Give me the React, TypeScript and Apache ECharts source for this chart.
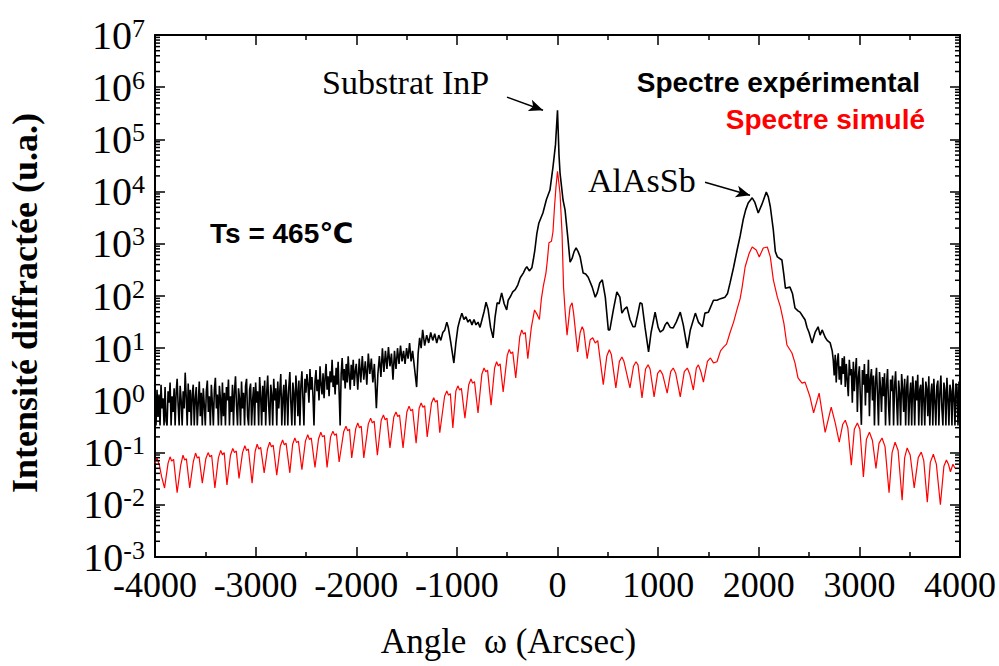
import React, { useEffect, useRef } from "react";
import * as echarts from "echarts";

// ---------- data ----------
// Experimental spectrum (black): noisy left tail, sampled every 10 arcsec
const NOISE_STEP = 10;
const EXP_LEFT_START = -4000;
const EXP_LEFT_NOISE = [
  0.9, 0.33, 1.6, 0.5, 1.3, 0.33, 2.0, 0.7, 1.1, 0.33,
  1.8, 0.4, 0.33, 1.5, 0.9, 2.2, 0.33, 1.2, 0.6, 1.7,
  0.33, 1.4, 2.6, 0.8, 0.33, 1.9, 1.0, 0.33, 1.5, 0.7,
  3.4, 1.2, 0.33, 2.1, 0.6, 1.6, 0.33, 1.3, 2.0, 0.33,
  1.1, 1.8, 0.33, 0.9, 2.3, 0.5, 1.4, 0.33, 1.7, 0.8,
  0.33, 1.5, 2.4, 0.6, 1.2, 0.33, 2.0, 0.9, 0.33, 1.6,
  2.7, 0.7, 1.3, 0.33, 1.9, 1.1, 0.33, 2.2, 0.5, 1.4,
  0.33, 1.8, 1.0, 2.5, 0.33, 1.2, 0.6, 2.0, 0.33, 1.5,
  2.9, 0.8, 0.33, 1.7, 1.1, 0.33, 2.3, 0.7, 1.4, 0.33,
  1.9, 2.6, 0.5, 0.33, 1.6, 2.1, 0.33, 1.0, 1.8, 0.33,
  2.2, 0.9, 1.5, 0.33, 2.8, 1.2, 0.33, 1.9, 0.6, 2.4,
  0.33, 1.4, 3.0, 0.8, 0.33, 2.0, 1.3, 0.33, 2.6, 1.0,
  1.7, 0.33, 2.3, 0.7, 1.5, 3.2, 0.33, 1.1, 2.0, 0.33,
  2.5, 1.3, 0.33, 1.8, 3.5, 0.9, 0.33, 2.2, 1.4, 0.33,
  3.0, 1.6, 0.5, 2.4, 0.33, 1.9, 3.6, 1.1, 0.33, 2.6,
  1.4, 3.2, 2.0, 0.9, 4.0, 1.6, 2.8, 1.2, 0.33, 2.3,
  3.8, 1.5, 2.5, 1.0, 4.5, 2.0, 1.3, 3.3, 1.1, 2.7,
  5.0, 1.6, 2.9, 1.2, 3.6, 2.2, 6.0, 1.8, 3.0, 1.3,
  4.2, 2.0, 5.5, 1.4, 0.33, 3.2, 6.5, 2.4, 4.0, 1.7,
  5.0, 2.2, 7.0, 3.0, 1.6, 4.8, 2.5, 6.0, 1.9, 3.6,
];

// Experimental spectrum (black): central part, [angle, intensity]
const EXP_CENTER: [number, number][] = [
  [-2000, 5.0], [-1985, 1.6], [-1970, 6.3], [-1955, 2.2], [-1940, 7.1], [-1925, 2.5],
  [-1910, 5.6], [-1895, 2.0], [-1880, 7.9], [-1865, 3.2], [-1850, 6.3], [-1835, 2.2],
  [-1820, 5.0], [-1800, 0.71], [-1785, 3.2], [-1770, 7.1], [-1755, 2.8], [-1740, 10],
  [-1725, 3.5], [-1710, 8.9], [-1695, 4.0], [-1680, 10.5], [-1665, 4.5], [-1650, 7.9],
  [-1635, 2.5], [-1620, 8.9], [-1605, 4.0], [-1590, 10], [-1575, 5.0], [-1560, 11.2],
  [-1545, 5.6], [-1530, 8.9], [-1515, 5.0], [-1500, 10], [-1485, 6.3], [-1470, 12.6],
  [-1455, 5.6], [-1440, 8.9], [-1420, 4.0], [-1400, 1.8], [-1385, 7.9], [-1370, 15.8],
  [-1355, 10], [-1340, 22.4], [-1320, 11.2], [-1300, 17.8], [-1280, 12.6], [-1260, 20],
  [-1240, 14.1], [-1220, 19], [-1200, 12.6], [-1180, 17.8], [-1160, 14.1], [-1140, 20],
  [-1120, 22.4], [-1100, 31.6], [-1085, 25], [-1060, 12.6], [-1030, 5.2], [-1010, 12.6],
  [-990, 25], [-970, 35.5], [-950, 47], [-930, 35.5], [-910, 40], [-890, 31.6],
  [-870, 35.5], [-850, 28], [-830, 35.5], [-810, 28], [-790, 31.6], [-770, 25],
  [-750, 35.5], [-730, 50], [-710, 76], [-690, 56], [-665, 25], [-640, 15.8],
  [-620, 40], [-600, 74], [-580, 71], [-555, 115], [-530, 71], [-505, 54],
  [-490, 83], [-465, 100], [-445, 120], [-420, 132], [-395, 162], [-370, 224],
  [-340, 275], [-320, 331], [-305, 363], [-280, 302], [-255, 347], [-240, 500],
  [-225, 760], [-205, 1580], [-185, 2510], [-160, 3300], [-145, 3900], [-110, 7080],
  [-75, 10700], [-45, 29500], [-20, 79400], [0, 363000], [15, 50000], [25, 22900],
  [55, 6900], [75, 4470], [105, 1175], [125, 447], [145, 525], [165, 708],
  [185, 832], [205, 708], [225, 562], [255, 275], [280, 263], [305, 229],
  [345, 148], [375, 95], [395, 115], [420, 178], [445, 204], [475, 95],
  [505, 22.4], [520, 22.4], [555, 54], [590, 120], [620, 95], [640, 47],
  [665, 56], [690, 62], [720, 35.5], [750, 25.7], [770, 25.7], [800, 47],
  [820, 74], [840, 71], [870, 25], [905, 8.5], [930, 20], [970, 49],
  [1000, 25], [1020, 20.4], [1050, 22.4], [1070, 28], [1090, 31.6], [1120, 25],
  [1150, 24.5], [1180, 31.6], [1220, 49], [1250, 28], [1290, 10], [1320, 22.4],
  [1370, 47], [1400, 31.6], [1440, 25.7], [1465, 47], [1500, 49], [1550, 83],
  [1585, 83], [1620, 89], [1665, 95], [1690, 112], [1715, 178], [1750, 355],
  [1785, 760], [1815, 1410], [1845, 2880], [1870, 4470], [1895, 6030], [1935, 7590],
  [1960, 6310], [1995, 3890], [2030, 5620], [2075, 9770], [2095, 7940], [2115, 5130],
  [2145, 1820], [2165, 708], [2185, 562], [2230, 490], [2250, 251], [2265, 141],
  [2310, 148], [2335, 112], [2360, 59], [2390, 52], [2410, 49], [2440, 40],
  [2460, 35], [2480, 25], [2500, 20], [2530, 12.6], [2560, 20], [2590, 25.7],
  [2610, 17.8], [2630, 22.4], [2660, 16.2], [2680, 14.1], [2710, 12.6], [2730, 8.9],
];

// Experimental spectrum (black): noisy right tail, sampled every 10 arcsec
const EXP_RIGHT_START = 2740;
const EXP_RIGHT_NOISE = [
  6.0, 3.0, 7.5, 2.2, 5.5, 8.0, 2.5, 4.5, 2.0, 6.5,
  3.2, 7.0, 1.8, 5.0, 2.4, 1.2, 6.0, 3.0, 4.0, 0.9,
  5.5, 1.5, 3.5, 6.5, 0.6, 2.8, 4.5, 1.1, 0.34, 3.8,
  2.0, 5.0, 0.8, 3.2, 1.4, 6.0, 0.5, 2.6, 4.0, 1.0,
  3.0, 0.33, 2.2, 4.2, 1.3, 0.33, 3.5, 1.8, 0.6, 2.8,
  1.2, 3.3, 0.33, 2.0, 4.0, 0.8, 0.33, 2.5, 1.5, 3.0,
  0.33, 1.9, 3.6, 1.0, 0.33, 2.4, 1.4, 0.33, 3.2, 1.7,
  0.6, 2.6, 0.33, 1.8, 3.0, 0.33, 1.2, 2.2, 0.33, 2.9,
  1.5, 0.33, 2.4, 1.0, 3.1, 0.33, 1.6, 2.0, 0.33, 2.7,
  1.1, 0.33, 2.3, 1.7, 0.5, 2.9, 0.33, 1.3, 2.1, 0.33,
  2.6, 1.0, 0.33, 1.9, 2.4, 0.33, 1.4, 3.0, 0.7, 0.33,
  2.2, 1.6, 0.33, 2.7, 1.1, 0.33, 2.0, 1.5, 0.33, 2.5,
  1.2, 0.33, 2.1, 1.8, 0.33, 2.3, 1.4,
];

// Simulated spectrum (red), [angle, intensity]
const SIM: [number, number][] = [
  [-4000, 0.063], [-3980, 0.079], [-3955, 0.056], [-3935, 0.035], [-3905, 0.021],
  [-3870, 0.063], [-3850, 0.083], [-3835, 0.069], [-3815, 0.074], [-3780, 0.017],
  [-3745, 0.056], [-3722, 0.089], [-3705, 0.072], [-3688, 0.076], [-3655, 0.021],
  [-3620, 0.066], [-3597, 0.098], [-3580, 0.079], [-3562, 0.083], [-3530, 0.026],
  [-3495, 0.076], [-3472, 0.10], [-3455, 0.083], [-3437, 0.089], [-3405, 0.021],
  [-3370, 0.079], [-3347, 0.11], [-3330, 0.091], [-3312, 0.10], [-3285, 0.024],
  [-3250, 0.089], [-3227, 0.12], [-3210, 0.10], [-3192, 0.107], [-3165, 0.032],
  [-3130, 0.10], [-3107, 0.135], [-3090, 0.11], [-3072, 0.117], [-3035, 0.026],
  [-3005, 0.105], [-2985, 0.145], [-2968, 0.117], [-2950, 0.126], [-2915, 0.041],
  [-2882, 0.117], [-2860, 0.158], [-2843, 0.129], [-2825, 0.138], [-2790, 0.037],
  [-2755, 0.132], [-2732, 0.174], [-2715, 0.141], [-2697, 0.151], [-2660, 0.041],
  [-2632, 0.145], [-2610, 0.19], [-2593, 0.155], [-2575, 0.166], [-2540, 0.047],
  [-2505, 0.166], [-2482, 0.22], [-2465, 0.178], [-2447, 0.19], [-2410, 0.052],
  [-2375, 0.182], [-2352, 0.245], [-2335, 0.20], [-2317, 0.214], [-2290, 0.052],
  [-2255, 0.20], [-2232, 0.257], [-2215, 0.214], [-2197, 0.229], [-2170, 0.066],
  [-2125, 0.25], [-2102, 0.32], [-2085, 0.263], [-2067, 0.282], [-2045, 0.079],
  [-2005, 0.288], [-1985, 0.37], [-1968, 0.30], [-1950, 0.32], [-1925, 0.079],
  [-1880, 0.355], [-1857, 0.457], [-1840, 0.37], [-1822, 0.40], [-1790, 0.089],
  [-1752, 0.417], [-1730, 0.525], [-1713, 0.427], [-1695, 0.457], [-1665, 0.123],
  [-1627, 0.479], [-1605, 0.60], [-1588, 0.49], [-1570, 0.525], [-1535, 0.123],
  [-1497, 0.60], [-1475, 0.776], [-1458, 0.63], [-1440, 0.676], [-1405, 0.151],
  [-1375, 0.708], [-1355, 0.89], [-1338, 0.74], [-1320, 0.79], [-1295, 0.20],
  [-1252, 0.89], [-1230, 1.12], [-1213, 0.93], [-1195, 1.0], [-1170, 0.24],
  [-1122, 1.2], [-1100, 1.51], [-1083, 1.26], [-1065, 1.35], [-1040, 0.295],
  [-1010, 1.51], [-990, 1.9], [-973, 1.58], [-955, 1.7], [-920, 0.457],
  [-882, 2.0], [-860, 2.57], [-843, 2.14], [-825, 2.29], [-790, 0.575],
  [-752, 3.16], [-730, 4.17], [-713, 3.55], [-695, 3.8], [-660, 0.81],
  [-625, 4.17], [-605, 5.5], [-588, 4.57], [-570, 5.0], [-540, 1.45],
  [-500, 7.2], [-480, 9.5], [-463, 7.9], [-445, 8.5], [-415, 2.7],
  [-375, 16.6], [-355, 22.4], [-338, 18.6], [-320, 20], [-295, 6.3],
  [-260, 25], [-228, 54], [-205, 45], [-180, 35.5], [-160, 89], [-140, 158],
  [-115, 275], [-100, 500], [-85, 1050], [-60, 1120], [-45, 1700], [-30, 5000],
  [-15, 12300], [0, 24500], [25, 9300], [45, 1620], [60, 148], [75, 54], [95, 17.8],
  [125, 62], [145, 74], [160, 47], [200, 8.5], [225, 20], [245, 25.7], [260, 22.4],
  [295, 6.3], [325, 14.5], [350, 15.8], [375, 12.6], [400, 14], [455, 2.0],
  [490, 7.1], [515, 9.3], [535, 7.6], [580, 1.74],
  [615, 5.6], [640, 6.8], [660, 5.6], [720, 1.74],
  [755, 4.5], [780, 5.5], [800, 4.8], [840, 1.12],
  [875, 4.0], [900, 4.8], [920, 4.0], [960, 1.17],
  [995, 3.3], [1020, 3.8], [1045, 3.16], [1090, 1.38],
  [1125, 3.55], [1150, 4.17], [1175, 3.3], [1220, 1.17],
  [1260, 3.55], [1290, 4.17], [1315, 3.16], [1350, 1.58],
  [1380, 4.17], [1400, 4.8], [1425, 3.55], [1450, 2.24],
  [1490, 5.6], [1520, 6.5], [1550, 5.25], [1585, 5.5],
  [1620, 8.9], [1650, 10.5], [1680, 12], [1715, 20], [1750, 31.6], [1785, 56],
  [1815, 89], [1835, 148], [1865, 363], [1905, 660], [1935, 870], [1975, 760],
  [2005, 560], [2045, 830], [2085, 870], [2115, 560], [2145, 204], [2185, 95],
  [2215, 62], [2250, 30], [2280, 11.5], [2330, 8.1], [2360, 5.25], [2390, 2.7],
  [2430, 2.14], [2460, 2.24], [2510, 1.16], [2545, 0.575], [2600, 1.38], [2660, 0.245],
  [2720, 0.74], [2760, 0.37], [2800, 0.158], [2835, 0.35], [2860, 0.417], [2885, 0.3],
  [2920, 0.0575], [2950, 0.28], [2980, 0.37], [3005, 0.28], [3040, 0.034], [3070, 0.18],
  [3100, 0.245], [3130, 0.17], [3165, 0.05], [3195, 0.15], [3225, 0.19], [3255, 0.13],
  [3295, 0.017], [3325, 0.1], [3355, 0.158], [3385, 0.11], [3425, 0.0123], [3450, 0.08],
  [3475, 0.123], [3505, 0.09], [3545, 0.021], [3585, 0.08], [3615, 0.102], [3640, 0.07],
  [3675, 0.0112], [3705, 0.065], [3735, 0.093], [3765, 0.06], [3805, 0.010], [3840, 0.055],
  [3865, 0.072], [3885, 0.06], [3905, 0.043], [3930, 0.06], [3950, 0.05],
];

// Annotation arrows (tail, head) in data coordinates [angle, intensity]
const ARROW_SUBSTRATE: [number, number][] = [[-502, 6.46e5], [-144, 3.63e5]];
const ARROW_LAYER: [number, number][] = [[1466, 15100], [1913, 8500]];

const TEXTS = {
  xTitle: "Angle  ω (Arcsec)",
  yTitle: "Intensité diffractée (u.a.)",
  experimental: "Spectre expérimental",
  simulated: "Spectre simulé",
  substrate: "Substrat InP",
  layer: "AlAsSb",
  temperature: "Ts = 465℃",
};

const X_MIN = -4000;
const X_MAX = 4000;
const X_INTERVAL = 1000;
const Y_MIN = 1e-3;
const Y_MAX = 1e7;
const Y_DECADES = [-3, -2, -1, 0, 1, 2, 3, 4, 5, 6];
const Y_MINOR_MULTIPLIERS = [2, 3, 4, 5, 6, 7, 8, 9];

const SERIF = '"Liberation Serif", "Times New Roman", Times, serif';
const SANS = '"Liberation Sans", Arial, Helvetica, "DejaVu Sans", sans-serif';

export default function App() {
  const ref = useRef<HTMLDivElement>(null);

  useEffect(() => {
    if (!ref.current) return;
    const chart = echarts.init(ref.current, undefined, { renderer: "svg" });

    const expData: [number, number][] = [
      ...EXP_LEFT_NOISE.map((v, i) => [EXP_LEFT_START + i * NOISE_STEP, v] as [number, number]),
      ...EXP_CENTER,
      ...EXP_RIGHT_NOISE.map((v, i) => [EXP_RIGHT_START + i * NOISE_STEP, v] as [number, number]),
    ];

    const minorTicks: [number, number][] = [];
    Y_DECADES.forEach((d) => {
      Y_MINOR_MULTIPLIERS.forEach((m) => minorTicks.push([X_MIN, m * Math.pow(10, d)]));
    });

    const axisLine = { show: true, onZero: false, lineStyle: { color: "#000", width: 2 } };
    const majorTick = { show: true, inside: true, length: 10, lineStyle: { color: "#000", width: 1.5 } };
    const xMinor = { show: true, splitNumber: 2, length: 5, lineStyle: { color: "#000", width: 1.5 } };

    const option: any = {
      animation: false,
      backgroundColor: "#ffffff",
      grid: {
        left: 155,
        top: 35,
        width: 805,
        height: 522,
        containLabel: false,
        outerBoundsMode: "none",
      },
      xAxis: [
        {
          type: "value",
          position: "bottom",
          min: X_MIN,
          max: X_MAX,
          interval: X_INTERVAL,
          name: TEXTS.xTitle,
          nameLocation: "middle",
          nameGap: 67,
          nameTextStyle: { fontFamily: SERIF, fontSize: 35, color: "#000", padding: [0, 98, 0, 0] },
          axisLine,
          axisTick: majorTick,
          minorTick: xMinor,
          axisLabel: {
            show: true,
            margin: 10,
            fontFamily: SERIF,
            fontSize: 36,
            color: "#000",
            formatter: (v: number) => String(v),
          },
          splitLine: { show: false },
          minorSplitLine: { show: false },
        },
        {
          type: "value",
          position: "top",
          min: X_MIN,
          max: X_MAX,
          interval: X_INTERVAL,
          axisLine,
          axisTick: majorTick,
          minorTick: xMinor,
          axisLabel: { show: false },
          splitLine: { show: false },
        },
      ],
      yAxis: [
        {
          type: "log",
          logBase: 10,
          position: "left",
          min: Y_MIN,
          max: Y_MAX,
          interval: 1,
          name: TEXTS.yTitle,
          nameLocation: "middle",
          nameRotate: 90,
          nameGap: 112,
          nameTextStyle: { fontFamily: SERIF, fontWeight: "bold", fontSize: 36, color: "#000", padding: [0, 14, 0, 0] },
          axisLine,
          axisTick: majorTick,
          axisLabel: {
            show: true,
            interval: 0,
            hideOverlap: false,
            margin: 10,
            showMinLabel: true,
            showMaxLabel: true,
            formatter: (v: number) => `{b|10}{e|${Math.round(Math.log10(v))}}`,
            rich: {
              b: {
                fontFamily: SERIF,
                fontSize: 40,
                color: "#000",
                lineHeight: 40,
                verticalAlign: "bottom",
              },
              e: {
                fontFamily: SERIF,
                fontSize: 26,
                color: "#000",
                lineHeight: 20,
                verticalAlign: "top",
                padding: [0, 0, 22, 0],
              },
            },
          },
          splitLine: { show: false },
        },
        {
          type: "log",
          logBase: 10,
          position: "right",
          min: Y_MIN,
          max: Y_MAX,
          interval: 1,
          axisLine,
          axisTick: majorTick,
          axisLabel: { show: false },
          splitLine: { show: false },
        },
      ],
      series: [
        {
          name: TEXTS.experimental,
          type: "line",
          data: expData,
          xAxisIndex: 0,
          yAxisIndex: 0,
          showSymbol: false,
          symbol: "none",
          lineStyle: { color: "#000000", width: 1.6 },
          itemStyle: { color: "#000000" },
          z: 2,
          markLine: {
            silent: true,
            symbol: ["none", "arrow"],
            symbolSize: [9, 14],
            label: { show: false },
            lineStyle: { color: "#000", width: 1.5, type: "solid" },
            data: [
              [{ coord: ARROW_SUBSTRATE[0] }, { coord: ARROW_SUBSTRATE[1] }],
              [{ coord: ARROW_LAYER[0] }, { coord: ARROW_LAYER[1] }],
            ],
          },
        },
        {
          name: TEXTS.simulated,
          type: "line",
          data: SIM,
          xAxisIndex: 0,
          yAxisIndex: 0,
          showSymbol: false,
          symbol: "none",
          lineStyle: { color: "#ff0000", width: 1.2 },
          itemStyle: { color: "#ff0000" },
          z: 3,
        },
        {
          name: "minor ticks",
          type: "custom",
          xAxisIndex: 0,
          yAxisIndex: 0,
          silent: true,
          clip: false,
          data: minorTicks,
          encode: { x: 0, y: 1 },
          z: 5,
          renderItem: (_params: any, api: any) => {
            const v = api.value(1);
            const pl = api.coord([X_MIN, v]);
            const pr = api.coord([X_MAX, v]);
            const st = { stroke: "#000", lineWidth: 1.5 };
            return {
              type: "group",
              children: [
                { type: "line", shape: { x1: pl[0], y1: pl[1], x2: pl[0] + 5, y2: pl[1] }, style: st },
                { type: "line", shape: { x1: pr[0] - 5, y1: pr[1], x2: pr[0], y2: pr[1] }, style: st },
              ],
            };
          },
        },
      ],
      graphic: [
        {
          type: "text",
          x: 322,
          y: 82,
          style: { text: TEXTS.substrate, fill: "#000", font: `34px ${SERIF}`, textAlign: "left", textVerticalAlign: "middle" },
        },
        {
          type: "text",
          x: 588,
          y: 180,
          style: { text: TEXTS.layer, fill: "#000", font: `34px ${SERIF}`, textAlign: "left", textVerticalAlign: "middle" },
        },
        {
          type: "text",
          x: 920,
          y: 82,
          style: { text: TEXTS.experimental, fill: "#000", font: `bold 28px ${SANS}`, textAlign: "right", textVerticalAlign: "middle" },
        },
        {
          type: "text",
          x: 925,
          y: 119,
          style: { text: TEXTS.simulated, fill: "#ff0000", font: `bold 28px ${SANS}`, textAlign: "right", textVerticalAlign: "middle" },
        },
        {
          type: "text",
          x: 210,
          y: 233,
          style: { text: TEXTS.temperature, fill: "#000", font: `bold 28px ${SANS}`, textAlign: "left", textVerticalAlign: "middle" },
        },
      ],
    };

    chart.setOption(option);
    return () => {
      chart.dispose();
    };
  }, []);

  return (
    <div
      ref={ref}
      style={{ position: "fixed", left: 0, top: 0, width: 999, height: 666, background: "#fff" }}
    />
  );
}
